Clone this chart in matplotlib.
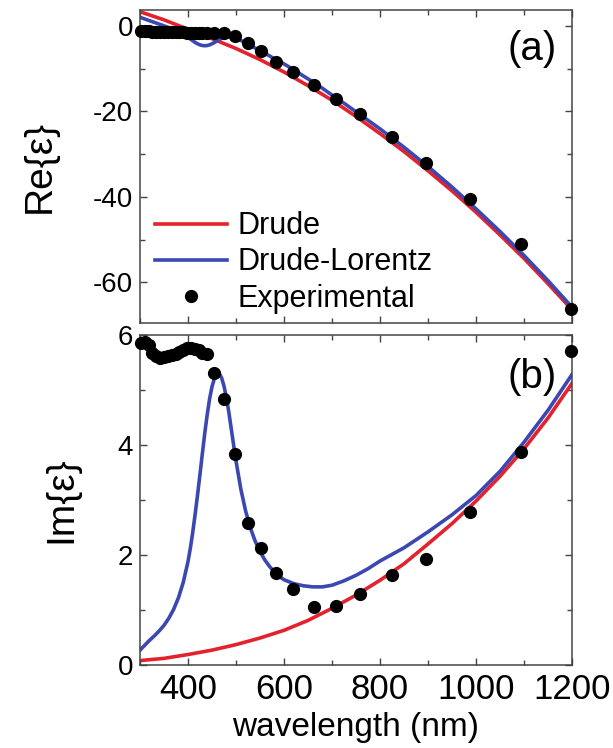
import numpy as np
import matplotlib
matplotlib.use('Agg')
import matplotlib.pyplot as plt
from matplotlib.ticker import MultipleLocator

plt.rcParams['font.family'] = ['Liberation Sans', 'DejaVu Sans']
plt.rcParams['axes.unicode_minus'] = False

# Measured permittivity (shared wavelengths for both panels)
wl_exp = [302, 310, 318, 326, 334, 342, 350, 358, 366, 374, 382, 390, 398,
          406, 414, 422, 430, 440, 454, 474, 498, 525, 552, 584, 619, 663,
          708, 759, 825, 896, 988, 1093, 1198]
re_exp = [-1.2, -1.3, -1.3, -1.4, -1.4, -1.4, -1.4, -1.5, -1.5, -1.5, -1.5,
          -1.5, -1.6, -1.6, -1.6, -1.6, -1.6, -1.6, -1.6, -1.7, -2.3, -4.1,
          -5.9, -8.4, -10.7, -13.9, -17.0, -20.7, -25.9, -32.1, -40.4, -51.0,
          -66.2]
im_exp = [5.85, 5.88, 5.82, 5.68, 5.62, 5.58, 5.60, 5.62, 5.64, 5.66, 5.69,
          5.72, 5.76, 5.77, 5.75, 5.72, 5.68, 5.66, 5.30, 4.84, 3.83, 2.59,
          2.12, 1.67, 1.38, 1.05, 1.07, 1.29, 1.64, 1.93, 2.79, 3.87, 5.71]

# Drude fit
wl_d = [300, 350, 400, 450, 500, 550, 600, 650, 700, 750, 800, 850, 900,
        950, 1000, 1050, 1100, 1150, 1200]
re_d = [3.3, 1.4, -0.8, -3.0, -5.3, -7.9, -10.8, -14.0, -17.4, -21.2, -25.2,
        -29.4, -33.9, -38.6, -43.6, -48.9, -54.4, -60.3, -66.4]
im_d = [0.08, 0.12, 0.19, 0.27, 0.37, 0.49, 0.63, 0.81, 1.03, 1.27, 1.54,
        1.84, 2.20, 2.57, 2.98, 3.43, 3.93, 4.49, 5.12]

# Drude-Lorentz fit (denser around the interband resonance)
wl_dl = [300, 310, 320, 330, 340, 350, 360, 370, 380, 390, 400,
         405, 410, 415, 420, 425, 430, 435, 440, 445, 450,
         455, 460, 465, 470, 475, 480, 485, 490, 495, 500,
         510, 520, 530, 540, 550, 560, 570, 580, 590, 600,
         620, 640, 660, 680, 700, 725, 750, 775, 800,
         850, 900, 950, 1000, 1050, 1100, 1150, 1200]
re_dl = [2.0, 1.6, 1.2, 0.8, 0.4, 0.0, -0.4, -0.9, -1.4, -2.0, -2.7,
         -3.1, -3.5, -3.9, -4.2, -4.45, -4.6, -4.65, -4.6, -4.45, -4.2,
         -3.9, -3.55, -3.2, -2.95, -2.75, -2.65, -2.6, -2.65, -2.75, -2.9,
         -3.4, -4.0, -4.6, -5.2, -5.8, -6.4, -7.05, -7.7, -8.3, -8.9,
         -10.25, -11.7, -13.1, -14.6, -16.2, -18.1, -20.1, -22.1, -24.1,
         -28.4, -32.9, -37.7, -42.8, -48.1, -53.7, -59.6, -65.8]
im_dl = [0.27, 0.36, 0.45, 0.53, 0.62, 0.72, 0.85, 1.01, 1.22, 1.50, 1.88,
         2.13, 2.42, 2.75, 3.10, 3.47, 3.85, 4.22, 4.55, 4.84, 5.06,
         5.21, 5.29, 5.30, 5.22, 5.07, 4.86, 4.60, 4.30, 4.00, 3.71,
         3.20, 2.80, 2.49, 2.25, 2.06, 1.91, 1.79, 1.69, 1.61, 1.55,
         1.48, 1.44, 1.42, 1.42, 1.45, 1.53, 1.63, 1.75, 1.89,
         2.13, 2.42, 2.73, 3.08, 3.52, 4.05, 4.63, 5.28]

red = '#e3222e'
blue = '#3b48b2'

fig = plt.figure(figsize=(6.13, 7.48), dpi=100)
ax1 = fig.add_axes([0.2284, 0.5682, 0.7047, 0.4184])
ax2 = fig.add_axes([0.2284, 0.1110, 0.7047, 0.4412])

for ax, d, dl, ex in [(ax1, re_d, re_dl, re_exp), (ax2, im_d, im_dl, im_exp)]:
    ax.plot(wl_d, d, color=red, lw=2.6, label='Drude')
    ax.plot(wl_dl, dl, color=blue, lw=2.6, label='Drude-Lorentz')
    ax.plot(wl_exp, ex, 'o', color='black', ms=9.5, mec='none',
            label='Experimental', clip_on=False, zorder=5)
    ax.set_xlim(300, 1200)
    ax.xaxis.set_major_locator(MultipleLocator(200))
    ax.xaxis.set_minor_locator(MultipleLocator(100))
    ax.tick_params(which='both', direction='in', top=True, right=True,
                   color='#444444', width=1.0)
    ax.tick_params(which='major', length=5)
    ax.tick_params(which='minor', length=3.5)
    ax.tick_params(axis='y', labelsize=20, pad=5)
    ax.tick_params(axis='x', labelsize=25, pad=6)
    for s in ax.spines.values():
        s.set_color('#444444')
        s.set_linewidth(1.1)

ax1.set_ylim(-69.5, 3.7)
ax1.yaxis.set_major_locator(MultipleLocator(20))
ax1.yaxis.set_minor_locator(MultipleLocator(10))
ax1.tick_params(axis='x', labelbottom=False)
ax1.set_ylabel('Re{ε}', fontsize=28)
ax1.yaxis.set_label_coords(-0.19, 0.5)
ax1.text(0.965, 0.935, '(a)', transform=ax1.transAxes, ha='right', va='top',
         fontsize=29)
ax1.legend(loc='lower left', bbox_to_anchor=(0.035, 0.03), frameon=False,
           fontsize=22, handlelength=2.35, handletextpad=0.35,
           labelspacing=0.2, borderpad=0, borderaxespad=0)

ax2.set_ylim(0, 6)
ax2.yaxis.set_major_locator(MultipleLocator(2))
ax2.yaxis.set_minor_locator(MultipleLocator(1))
ax2.set_ylabel('Im{ε}', fontsize=28)
ax2.yaxis.set_label_coords(-0.14, 0.5)
ax2.set_xlabel('wavelength (nm)', fontsize=24, labelpad=4)
ax2.text(0.965, 0.93, '(b)', transform=ax2.transAxes, ha='right', va='top',
         fontsize=29)

fig.savefig('out.png', dpi=100)
